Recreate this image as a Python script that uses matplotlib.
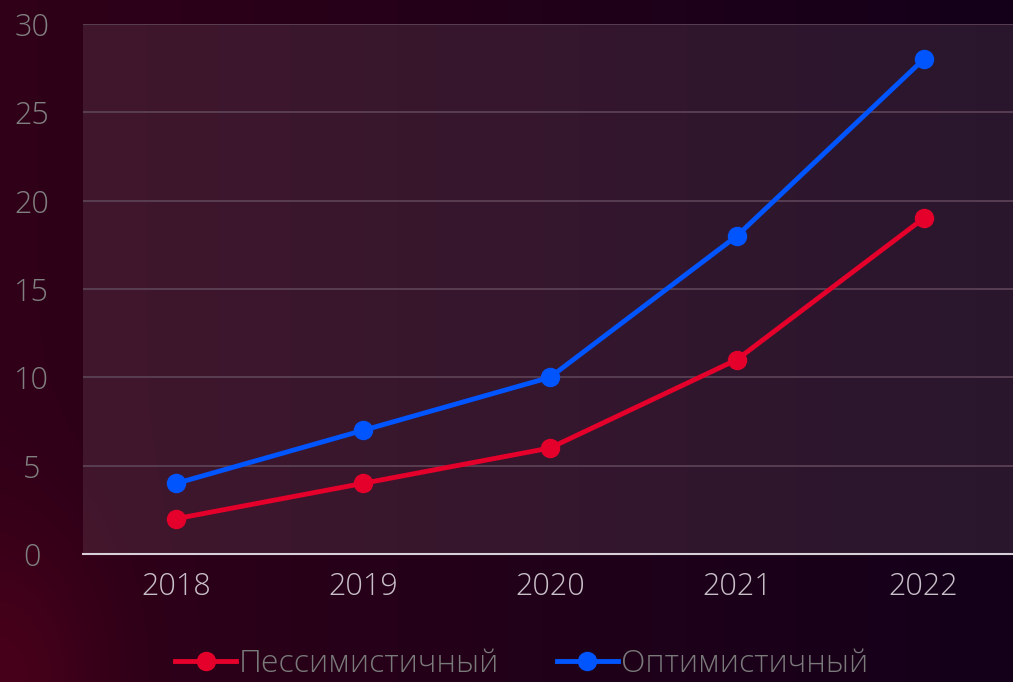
import numpy as np
import matplotlib.pyplot as plt

years = ['2018', '2019', '2020', '2021', '2022']
pessimistic = [2, 4, 6, 11, 19]
optimistic = [4, 7, 10, 18, 28]
y_ticks = [0, 5, 10, 15, 20, 25, 30]

plt.rcParams['font.family'] = ['Open Sans', 'DejaVu Sans']

fig = plt.figure(figsize=(10.13, 6.82), dpi=100)

# фон: горизонтальный градиент + красное свечение в левом нижнем углу
bg = fig.add_axes([0, 0, 1, 1], zorder=-10)
bg.axis('off')
gx = np.linspace(0, 1, 400)
gy = np.linspace(0, 1, 300)
GX, GY = np.meshgrid(gx, gy)
left = np.array([0x30, 0x00, 0x18]) / 255
right = np.array([0x14, 0x00, 0x1a]) / 255
img = left[None, None, :] * (1 - GX[..., None]) + right[None, None, :] * GX[..., None]
glow = np.exp(-((GX / 0.10) ** 2 + (GY / 0.22) ** 2))
red = np.array([0x60, 0x00, 0x1c]) / 255
img = img * (1 - glow[..., None] * 0.5) + red[None, None, :] * glow[..., None] * 0.5
bg.imshow(img, origin='lower', extent=[0, 1, 0, 1], aspect='auto')
bg.set_xlim(0, 1)
bg.set_ylim(0, 1)

ax = fig.add_axes([83 / 1013, 128 / 682, 934 / 1013, 530 / 682])
ax.set_facecolor((1, 1, 1, 0.09))

x = np.arange(len(years))
ax.plot(x, pessimistic, color='#e4002b', lw=3.5, marker='o', ms=13, label='Пессимистичный', zorder=3)
ax.plot(x, optimistic, color='#0055ff', lw=3.5, marker='o', ms=13, label='Оптимистичный', zorder=4)

ax.set_xlim(-0.5, 4.5)
ax.set_ylim(0, 30)
ax.set_xticks(x)
ax.set_xticklabels(years)
ax.set_yticks(y_ticks)
ax.grid(axis='y', color='#5e4458', lw=1.2)
ax.set_axisbelow(True)

for s in ['top', 'right', 'left']:
    ax.spines[s].set_visible(False)
ax.spines['bottom'].set_color('#d8d0d8')
ax.spines['bottom'].set_linewidth(1.5)

ax.tick_params(axis='x', colors='#c8c0c8', labelsize=22, length=0, pad=12)
ax.tick_params(axis='y', colors='#808080', labelsize=22, length=0, pad=37)
for lbl in ax.get_yticklabels():
    lbl.set_horizontalalignment('center')
    lbl.set_fontweight('light')
for lbl in ax.get_xticklabels():
    lbl.set_fontweight('light')

leg = fig.legend(loc='center', bbox_to_anchor=(0.515, 18 / 682), ncol=2, frameon=False,
                 labelcolor='#7a7a7a', handlelength=1.9, handletextpad=0.1,
                 columnspacing=1.8, borderpad=0.1,
                 prop={'family': ['Open Sans', 'DejaVu Sans'], 'size': 23, 'weight': 'light'})

fig.savefig('out.png', dpi=100)
